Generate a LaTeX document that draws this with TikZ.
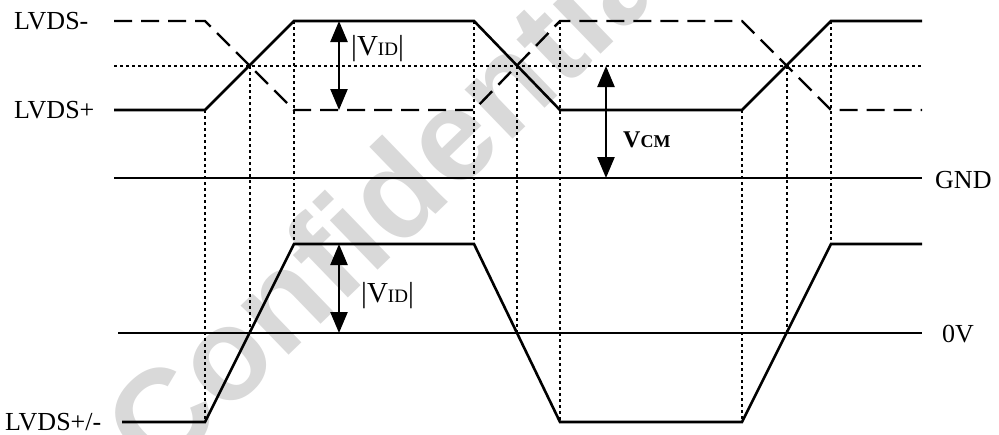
\documentclass[tikz,border=0pt]{standalone}
\usepackage{fontspec}
\setmainfont{Liberation Serif}
\newfontfamily\wmfont{Liberation Sans}
\usetikzlibrary{arrows.meta}
\begin{document}
\begin{tikzpicture}[x=1pt,y=-1pt,
  sig/.style={line width=2.6pt, line join=miter},
  dsig/.style={line width=2.4pt, dash pattern=on 18pt off 9pt},
  guide/.style={line width=2pt, dash pattern=on 3pt off 3pt},
  meas/.style={line width=2.4pt, {Triangle[width=17pt,length=21pt]}-{Triangle[width=17pt,length=21pt]}},
  lbl/.style={inner sep=0pt, anchor=west, font=\fontsize{26}{26}\selectfont},
  mlbl/.style={inner sep=0pt, anchor=west},
  wmark/.style={rotate=44, anchor=base west, inner sep=0pt, text=black!15,
    font=\wmfont\bfseries\fontsize{130}{130}\selectfont},
]
\useasboundingbox (0,0) rectangle (999,434);

% watermark
\node[wmark] (wm) at (158,482) {Confidential};

% top waveforms
\draw[sig] (114,110) -- (205,110) -- (294,21) -- (474,21) -- (560,110) -- (742,110) -- (831,21) -- (922,21);
\draw[dsig] (114,21) -- (205,21) -- (294,110) -- (474,110) -- (560,21) -- (742,21) -- (831,110) -- (922,110);
\draw[guide] (114,66) -- (922,66);
\draw[sig] (114,178) -- (922,178);

% bottom waveform
\draw[sig] (118,333) -- (922,333);
\draw[sig] (122,422) -- (205,422) -- (294,244) -- (474,244) -- (560,422) -- (742,422) -- (831,244) -- (922,244);

% dotted guides
\draw[guide] (205,110) -- (205,422);
\draw[guide] (250,66) -- (250,333);
\draw[guide] (294,21) -- (294,244);
\draw[guide] (474,21) -- (474,244);
\draw[guide] (517,66) -- (517,333);
\draw[guide] (560,21) -- (560,422);
\draw[guide] (742,110) -- (742,422);
\draw[guide] (787,66) -- (787,333);
\draw[guide] (831,21) -- (831,244);

% measurement arrows
\coordinate (v1t) at (339,21);
\coordinate (v1b) at (339,110);
\coordinate (cmt) at (606,66);
\coordinate (cmb) at (606,178);
\coordinate (v2t) at (339,244);
\coordinate (v2b) at (339,333);
\draw[meas] (v1t) -- (v1b);
\draw[meas] (cmt) -- (cmb);
\draw[meas] (v2t) -- (v2b);

% labels
\node[lbl] (lvdsm) at (14,21) {LVDS-};
\node[lbl] (lvdsp) at (14,110) {LVDS+};
\node[lbl] (lvdspm) at (5,422) {LVDS+/-};
\node[lbl] (gnd) at (935,180) {GND};
\node[lbl] (zv) at (942,334) {0V};
\node[mlbl] (vid1) at (351,49) {\fontsize{29}{29}\selectfont |V{\fontsize{19}{19}\selectfont ID}|};
\node[mlbl] (vid2) at (361,296) {\fontsize{29}{29}\selectfont |V{\fontsize{19}{19}\selectfont ID}|};
\node[mlbl] (vcm) at (623,140) {\bfseries\fontsize{24}{24}\selectfont V{\fontsize{18}{18}\selectfont CM}};
\end{tikzpicture}
\end{document}
